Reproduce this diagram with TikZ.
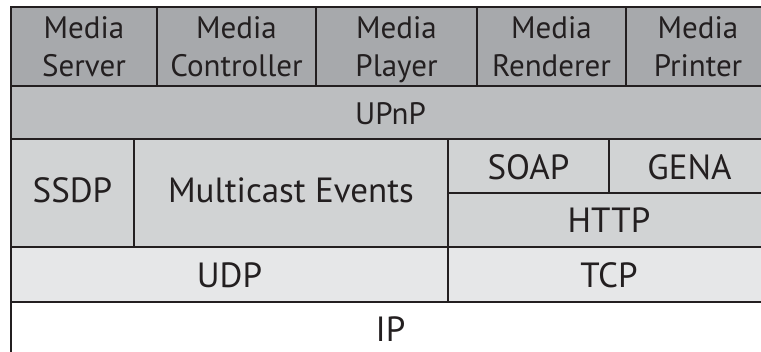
\documentclass[tikz,border=0pt]{standalone}
\usepackage{fontspec}
\setmainfont{PT Sans}
\definecolor{lc}{HTML}{231F20}
\definecolor{cA}{HTML}{A7A9AC}
\definecolor{cB}{HTML}{BCBEC0}
\definecolor{cC}{HTML}{D1D3D4}
\definecolor{cD}{HTML}{E6E7E8}
\begin{document}
\begin{tikzpicture}[x=1pt,y=-1pt,
  cell/.style={draw=lc,line width=2pt},
  lbl/.style={anchor=base,inner sep=0pt,text=lc,font=\fontsize{35}{35}\selectfont},
  slbl/.style={lbl,font=\fontsize{31}{31}\selectfont}]
\useasboundingbox (0,0) rectangle (761,352);
\clip (0,0) rectangle (761,352);
\fill[white] (0,0) rectangle (761,352);
% rows
\path[cell,fill=white] (11,302) rectangle (770,358);
\path[cell,fill=cD] (11,247) rectangle (448,302);
\path[cell,fill=cD] (448,247) rectangle (770,302);
\path[cell,fill=cC] (11,139) rectangle (134,247);
\path[cell,fill=cC] (134,139) rectangle (448,247);
\path[cell,fill=cC] (448,139) rectangle (609,193);
\path[cell,fill=cC] (609,139) rectangle (770,193);
\path[cell,fill=cC] (448,193) rectangle (770,247);
\path[cell,fill=cB] (11,86.5) rectangle (770,139);
\path[cell,fill=cA] (11,7) rectangle (157,86.5);
\path[cell,fill=cA] (157,7) rectangle (316,86.5);
\path[cell,fill=cA] (316,7) rectangle (477,86.5);
\path[cell,fill=cA] (477,7) rectangle (626,86.5);
\path[cell,fill=cA] (626,7) rectangle (770,86.5);
% labels
\node[slbl] (ms1) at (84,39) {Media};
\node[slbl] (ms2) at (84,77) {Server};
\node[slbl] (mc1) at (236.5,39) {Media};
\node[slbl] (mc2) at (236.5,77) {Controller};
\node[slbl] (mp1) at (396.5,39) {Media};
\node[slbl] (mp2) at (396.5,77) {Player};
\node[slbl] (mr1) at (551.5,39) {Media};
\node[slbl] (mr2) at (551.5,77) {Renderer};
\node[slbl] (mpr1) at (698,39) {Media};
\node[slbl] (mpr2) at (698,77) {Printer};
\node[slbl] (upnp) at (390.5,125) {UPnP};
\node[lbl] (ssdp) at (72.5,203) {SSDP};
\node[lbl] (mce) at (291,203) {Multicast Events};
\node[lbl] (soap) at (528.5,180) {SOAP};
\node[lbl] (gena) at (689.5,180) {GENA};
\node[lbl] (http) at (609,233) {HTTP};
\node[lbl] (udp) at (229.5,288) {UDP};
\node[lbl] (tcp) at (609,288) {TCP};
\node[lbl] (ip) at (390.5,342) {IP};
\end{tikzpicture}
\end{document}
